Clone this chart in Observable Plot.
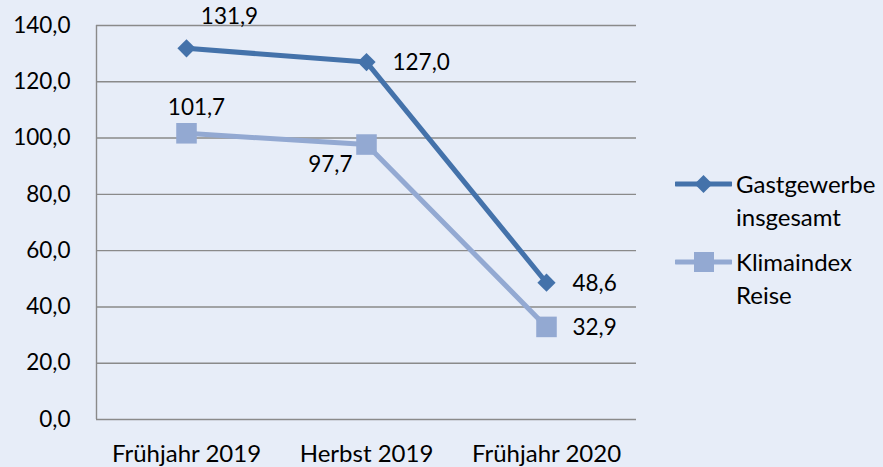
<!DOCTYPE html>
<html>
<head>
<meta charset="utf-8">
<script src="https://cdn.jsdelivr.net/npm/d3@7"></script>
<script src="https://cdn.jsdelivr.net/npm/@observablehq/plot@0.6"></script>
<style>
  html, body { margin: 0; padding: 0; background: #E7EDF8; }
  #wrap { position: relative; width: 883px; height: 467px; background: #E7EDF8; font-family: Lato, "Open Sans", sans-serif; overflow: hidden; }
  #legend { position: absolute; left: 675px; top: 167px; font-size: 24px; color: #000; line-height: 33px; }
  .item { display: flex; align-items: flex-start; margin-bottom: 12px; }
  .item svg { flex: none; margin-top: 2px; }
  .item span { margin-left: 4px; }
</style>
</head>
<body>
<div id="wrap"><div id="chart"></div><div id="legend"></div></div>
<script>
const periods = ["Frühjahr 2019", "Herbst 2019", "Frühjahr 2020"];
const gastgewerbe = [131.9, 127.0, 48.6];
const klimaindex = [101.7, 97.7, 32.9];
const seriesNames = ["Gastgewerbe insgesamt", "Klimaindex Reise"];
const legendLines = [["Gastgewerbe", "insgesamt"], ["Klimaindex", "Reise"]];
const yTicks = [0, 20, 40, 60, 80, 100, 120, 140];

const colors = ["#4472AA", "#93A9D2"];
const fmt = v => d3.format(".1f")(v).replace(".", ",");

const rows = [];
[gastgewerbe, klimaindex].forEach((vals, s) => {
  vals.forEach((v, i) => rows.push({series: seriesNames[s], s, i, period: periods[i], value: v}));
});
const G = rows.filter(d => d.s === 0);
const K = rows.filter(d => d.s === 1);
const numFont = {fontSize: 22.5, fill: "#000"};

const chart = Plot.plot({
  width: 883,
  height: 467,
  marginLeft: 96,
  marginRight: 247,
  marginTop: 25,
  marginBottom: 48,
  style: {background: "transparent", fontFamily: "Lato, 'Open Sans', sans-serif", fontSize: "22px", color: "#000"},
  x: {domain: [-0.5, periods.length - 0.5], axis: null},
  y: {domain: [0, 140], axis: null},
  marks: [
    Plot.ruleY(yTicks, {stroke: "#8A8A8A", strokeWidth: 1.4}),
    Plot.ruleX([-0.5], {stroke: "#8A8A8A", strokeWidth: 1.4}),
    // y tick labels
    Plot.text(yTicks, {x: () => -0.5, y: d => d, text: d => fmt(d), dx: -26, textAnchor: "end", ...numFont}),
    // x tick labels
    Plot.text(periods, {x: (d, i) => i, y: () => 0, text: d => d, dy: 35, textAnchor: "middle", fontSize: 24, fill: "#000"}),
    Plot.line(K, {x: "i", y: "value", stroke: colors[1], strokeWidth: 5}),
    Plot.line(G, {x: "i", y: "value", stroke: colors[0], strokeWidth: 5}),
    Plot.dot(K, {x: "i", y: "value", symbol: "square", r: 11.6, fill: colors[1], stroke: "none"}),
    Plot.dot(G, {x: "i", y: "value", symbol: "diamond2", r: 8.2, fill: colors[0], stroke: "none"}),
    // labels Gastgewerbe
    Plot.text(G.filter(d => d.i === 0), {x: "i", y: "value", text: d => fmt(d.value), dx: 43, dy: -31, textAnchor: "middle", ...numFont}),
    Plot.text(G.filter(d => d.i > 0), {x: "i", y: "value", text: d => fmt(d.value), dx: 26, dy: 1, textAnchor: "start", ...numFont}),
    // labels Klimaindex
    Plot.text(K.filter(d => d.i === 0), {x: "i", y: "value", text: d => fmt(d.value), dx: 10, dy: -25, textAnchor: "middle", ...numFont}),
    Plot.text(K.filter(d => d.i === 1), {x: "i", y: "value", text: d => fmt(d.value), dx: -14, dy: 20, textAnchor: "end", ...numFont}),
    Plot.text(K.filter(d => d.i === 2), {x: "i", y: "value", text: d => fmt(d.value), dx: 26, dy: 1, textAnchor: "start", ...numFont})
  ]
});
document.getElementById("chart").appendChild(chart);

// legend
const legend = d3.select("#legend");
legendLines.forEach((lines, s) => {
  const item = legend.append("div").attr("class", "item");
  const svg = item.append("svg").attr("width", 57).attr("height", 30);
  svg.append("line").attr("x1", 1).attr("x2", 56).attr("y1", 15).attr("y2", 15)
    .attr("stroke", colors[s]).attr("stroke-width", 5).attr("stroke-linecap", "round");
  if (s === 0) {
    svg.append("path").attr("d", "M28.5,6L37.5,15L28.5,24L19.5,15Z").attr("fill", colors[s]);
  } else {
    svg.append("rect").attr("x", 19).attr("y", 5).attr("width", 20).attr("height", 20).attr("fill", colors[s]);
  }
  item.append("span").html(lines.join("<br>"));
});
</script>
</body>
</html>
